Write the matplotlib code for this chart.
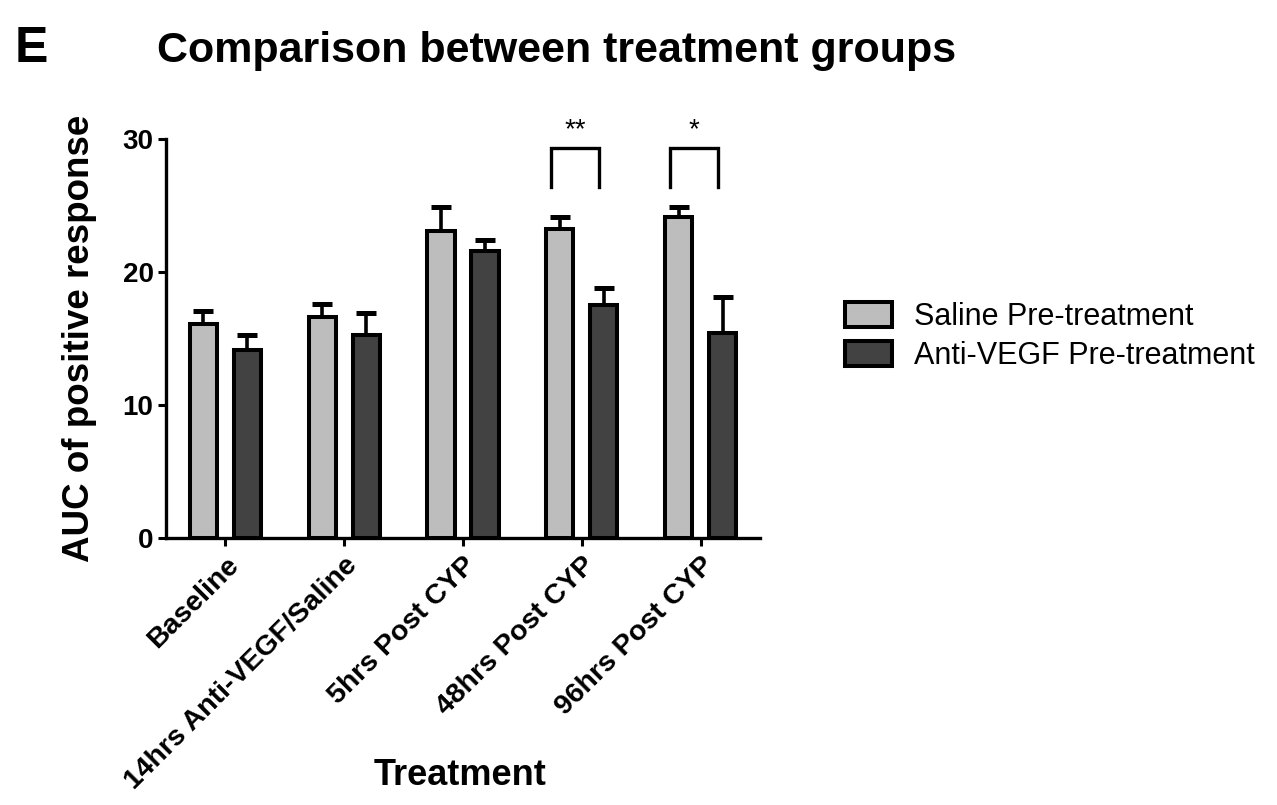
import matplotlib
matplotlib.use("Agg")
import matplotlib.pyplot as plt
import numpy as np

plt.rcParams['font.family'] = ['Liberation Sans', 'DejaVu Sans']

categories = ["Baseline", "14hrs Anti-VEGF/Saline", "5hrs Post CYP",
              "48hrs Post CYP", "96hrs Post CYP"]
series_names = ["Saline Pre-treatment", "Anti-VEGF Pre-treatment"]
saline_mean = [16.1, 16.6, 23.1, 23.2, 24.1]
saline_err = [1.0, 1.0, 1.8, 0.9, 0.8]
anti_mean = [14.1, 15.3, 21.6, 17.5, 15.4]
anti_err = [1.2, 1.6, 0.8, 1.3, 2.7]
yticks = [0, 10, 20, 30]
# significance brackets: (category index, label)
sig = [(3, "**"), (4, "*")]
bracket_top = 29.3
bracket_bottom = 26.4

W, H = 1277, 805
fig = plt.figure(figsize=(W / 100, H / 100), dpi=100)
ax = fig.add_axes([166 / W, 1 - 538 / H, 594 / W, 399 / H])

x = np.arange(len(categories))
off = 0.185
bw = 0.23
lw = 2.9
light = "#bdbdbd"
dark = "#424242"

ax.errorbar(x - off, saline_mean, yerr=[np.zeros(5), saline_err], fmt='none',
            ecolor='black', elinewidth=2.6, capsize=7, capthick=3.6, zorder=1)
ax.errorbar(x + off, anti_mean, yerr=[np.zeros(5), anti_err], fmt='none',
            ecolor='black', elinewidth=2.6, capsize=7, capthick=3.6, zorder=1)
b1 = ax.bar(x - off, saline_mean, bw, color=light, edgecolor='black',
            linewidth=lw, zorder=2, label=series_names[0])
b2 = ax.bar(x + off, anti_mean, bw, color=dark, edgecolor='black',
            linewidth=lw, zorder=2, label=series_names[1])

for i, lab in sig:
    xl = i - 0.26
    xr = i + 0.145
    ax.plot([xl, xl, xr, xr], [bracket_bottom, bracket_top, bracket_top, bracket_bottom],
            color='black', lw=2.4, clip_on=False, solid_joinstyle='miter')
    ax.text((xl + xr) / 2, bracket_top + 0.35, lab, ha='center', va='bottom',
            fontsize=20, clip_on=False)

ax.set_xlim(-0.5, 4.5)
ax.set_ylim(0, 30)
ax.set_yticks(yticks)
ax.set_yticklabels([str(t) for t in yticks], fontsize=20, fontweight='bold')
ax.set_xticks(x)
ax.set_xticklabels(categories, rotation=45, ha='right', va='top',
                   rotation_mode='anchor', fontsize=20.5, fontweight='bold')
for s in ['top', 'right']:
    ax.spines[s].set_visible(False)
for s in ['left', 'bottom']:
    ax.spines[s].set_linewidth(2.4)
ax.tick_params(axis='both', length=6, width=2.2, color='black')
ax.tick_params(axis='y', pad=3)
ax.tick_params(axis='x', pad=4)

fig.text(80 / W, 1 - 338 / H, "AUC of positive response", rotation=90,
         ha='center', va='center', fontsize=26.5, fontweight='bold')
fig.text(460 / W, 1 - 775 / H, "Treatment", ha='center', va='center',
         fontsize=26, fontweight='bold')
fig.text(157 / W, 1 - 62 / H, "Comparison between treatment groups",
         ha='left', va='baseline', fontsize=31, fontweight='bold')
fig.text(15 / W, 1 - 62 / H, "E", ha='left', va='baseline',
         fontsize=36, fontweight='bold')

leg = ax.legend(handles=[b1, b2], loc='upper left',
                bbox_to_anchor=(845 / W, 1 - 302 / H),
                bbox_transform=fig.transFigure, frameon=False,
                fontsize=22, borderpad=0, borderaxespad=0,
                handlelength=1.55, handleheight=0.9, handletextpad=0.7,
                labelspacing=0.28)

fig.savefig("out.png", dpi=100)
